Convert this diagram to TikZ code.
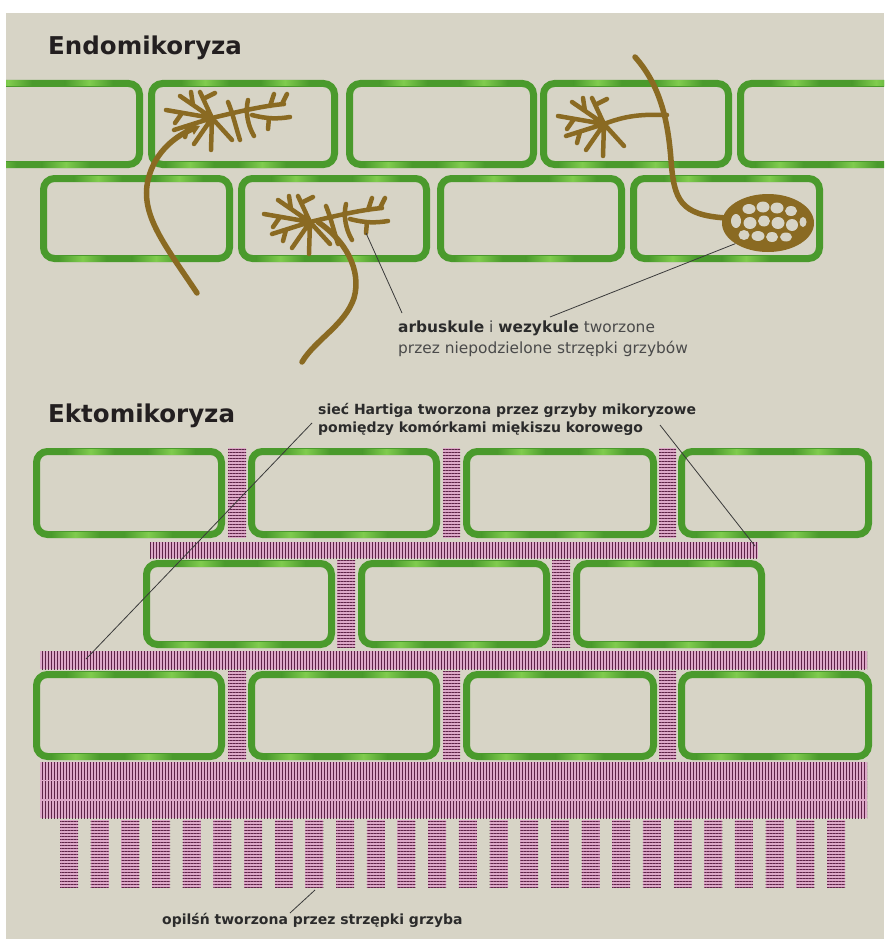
\documentclass[tikz,border=0pt]{standalone}
\usepackage{fontspec}
\setmainfont{DejaVu Sans}
\usetikzlibrary{patterns.meta,arrows.meta,shapes.geometric,calc}

\definecolor{bgbeige}{HTML}{D7D4C6}
\definecolor{cgreen}{HTML}{4A9A2C}
\definecolor{cglow}{HTML}{80CC4E}
\definecolor{fbrown}{HTML}{8A6A22}
\definecolor{hpink}{HTML}{DDA8C8}
\definecolor{hdark}{HTML}{5E2347}
\definecolor{titlecol}{HTML}{231F20}
\definecolor{lbldark}{HTML}{2B2B2B}
\definecolor{lblgray}{HTML}{4A4A4A}
\definecolor{pline}{HTML}{3A3A3A}

% plant cell: name, x1, y1, x2, y2 (outer edges of the wall)
\newcommand{\plantcell}[5]{%
  \pgfmathsetmacro\cw{#4-#2}\pgfmathsetmacro\ch{#5-#3}%
  \node[cellbox, minimum width=\cw pt-7pt, minimum height=\ch pt-7pt]
    (#1) at ({(#2+#4)/2},{(#3+#5)/2}) {};
  \foreach \f in {0.3,0.72}{%
    \shade[glow] ({#2+\f*\cw-24},{#3+1}) rectangle ({#2+\f*\cw+24},{#3+6});}
  \foreach \f in {0.22,0.6}{%
    \shade[glow] ({#2+\f*\cw-24},{#5-6}) rectangle ({#2+\f*\cw+24},{#5-1});}
}

\tikzset{
  cellbox/.style={draw=cgreen, line width=7pt, rounded corners=11pt,
    rectangle, inner sep=0pt, outer sep=0pt},
  glow/.style={left color=cgreen, right color=cgreen, middle color=cglow},
  hypha/.style={draw=fbrown, line width=5.5pt, line cap=round, line join=round},
  twig/.style={draw=fbrown, line width=4.5pt, line cap=round, line join=round},
  pointer/.style={draw=pline, line width=0.8pt},
  hyphvert/.style={fill=hpink, postaction={pattern={Lines[angle=90,distance=3pt,line width=1pt]}, pattern color=hdark}},
  hyphhorz/.style={fill=hpink, postaction={pattern={Lines[angle=0,distance=3pt,line width=1pt]}, pattern color=hdark}},
  heading/.style={inner sep=0pt, anchor=base west, text=titlecol,
    font=\fontsize{24.5}{29}\selectfont\bfseries},
  lbl/.style={inner sep=0pt, anchor=base west, text=lbldark,
    font=\fontsize{14}{17}\selectfont},
  bush/.pic={
    \draw[twig] (0,0) -- (-46,-8) (-30,-5) -- (-37,5)
      (0,0) -- (-32,-22) (-19,-13) -- (-21,-26)
      (0,0) -- (-12,-26) (-9,-19) -- (3,-25)
      (0,0) -- (-38,12) (-24,8) -- (-27,19)
      (0,0) -- (-1,32) (0,0) -- (20,22) (0,0) -- (-18,26);
  },
  branch/.pic={
    \draw[twig] (0,0) .. controls (25,-6) and (50,-12) .. (72,-14)
      (16,-16) .. controls (21,-4) and (24,10) .. (28,22)
      (36,-18) .. controls (33,-6) and (36,8) .. (42,18)
      (40,-3) .. controls (55,1) and (66,1) .. (78,-1)
      (57,0) -- (56,11)
      (58,-12) -- (62,-24)
      (70,-14) -- (75,-24);
    \coordinate (-tip) at (56,11);
  }
}

\begin{document}
\begin{tikzpicture}[x=1pt,y=-1pt]
\useasboundingbox (0,0) rectangle (884,939);
\fill[white] (0,0) rectangle (884,939);
\fill[bgbeige] (6,13) rectangle (884,939);

\begin{scope}
\clip (6,13) rectangle (884,939);

% ---------------- Endomikoryza ----------------
\node[heading] (endotitle) at (48,55) {Endomikoryza};

\plantcell{e1}{-50}{80}{143}{168}
\plantcell{e2}{148}{80}{338}{168}
\plantcell{e3}{346}{80}{537}{168}
\plantcell{e4}{540}{80}{732}{168}
\plantcell{e5}{737}{80}{930}{168}
\plantcell{e6}{40}{175}{233}{262}
\plantcell{e7}{238}{175}{430}{262}
\plantcell{e8}{437}{175}{625}{262}
\plantcell{e9}{630}{175}{823}{262}

% arbuscule in cell e2, fed by a hypha from below
\pic (a1b) at (212,118) {bush};
\pic (a1r) at (212,118) {branch};
\draw[hypha, -{Triangle[length=9pt,width=11pt]}] (197,293)
  .. controls (165,245) and (140,215) .. (148,180)
  .. controls (155,150) and (178,135) .. (200,126);

% arbuscule in cell e7
\pic (a2b) at (310,222) {bush};
\pic (a2r) at (310,222) {branch};
\draw[hypha] (318,222) .. controls (345,240) and (362,270) .. (354,298)
  .. controls (345,325) and (315,340) .. (302,362);

% arbuscule in cell e4 and the hypha ending in a vesicle in cell e9
\pic (a3b) at (604,124) {bush};
\draw[twig] (604,124) .. controls (625,116) and (640,114) .. (667,115);
\draw[hypha] (635,57) .. controls (660,85) and (668,120) .. (671,160)
  .. controls (674,200) and (680,215) .. (726,218);
\node[ellipse, fill=fbrown, minimum width=92pt, minimum height=58pt,
  inner sep=0pt] (ves) at (768,223) {};
\foreach \dx/\dy/\rx/\ry in {
  -19/-14/6.5/5, -5/-16/6.5/5.5, 9/-15/6.5/5.5, 23/-12/6/5,
  -32/-2/5/7, -18/0/6.5/6, -4/-2/6/5.5, 10/0/6.5/6, 24/2/6/6, 35/-1/3.5/5,
  -24/12/5.5/5, -10/13/6.5/5, 4/14/6/5, 18/14/6/4.5}{
  \fill[bgbeige] ($(768,223)+(\dx,\dy)$) ellipse [x radius=\rx, y radius=\ry];
}

\node[lbl, font=\fontsize{15.4}{18}\selectfont] (endolbl1) at (398,332)
  {\textbf{arbuskule} \textcolor{lblgray}{i} \textbf{wezykule} \textcolor{lblgray}{tworzone}};
\node[lbl, text=lblgray, font=\fontsize{15.4}{18}\selectfont] (endolbl2) at (398,353)
  {przez niepodzielone strzępki grzybów};
\coordinate (endoA) at (402,313);
\coordinate (endoB) at (550,317);
\draw[pointer] (a2r-tip) -- (endoA);
\draw[pointer] (ves.south west) -- (endoB);

% ---------------- Ektomikoryza ----------------
\node[heading] (ektotitle) at (48,422) {Ektomikoryza};

% Hartig net between the cortex cells
\path[hyphhorz] (228,448) rectangle (246,538);
\path[hyphhorz] (443,448) rectangle (460,538);
\path[hyphhorz] (659,448) rectangle (676,538);
\path[hyphvert] (150,542) rectangle (758,558);
\path[hyphhorz] (337,560) rectangle (355,648);
\path[hyphhorz] (552,560) rectangle (570,648);
\path[hyphvert] (40,651) rectangle (867,669);
\path[hyphhorz] (228,671) rectangle (246,760);
\path[hyphhorz] (443,671) rectangle (460,760);
\path[hyphhorz] (659,671) rectangle (676,760);

\plantcell{k1}{33}{448}{225}{538}
\plantcell{k2}{248}{448}{440}{538}
\plantcell{k3}{463}{448}{657}{538}
\plantcell{k4}{678}{448}{872}{538}
\plantcell{k5}{143}{560}{335}{648}
\plantcell{k6}{358}{560}{550}{648}
\plantcell{k7}{573}{560}{765}{648}
\plantcell{k8}{33}{671}{225}{760}
\plantcell{k9}{248}{671}{440}{760}
\plantcell{k10}{463}{671}{657}{760}
\plantcell{k11}{678}{671}{872}{760}

% fungal mantle and the hyphae growing out of it
\fill[hpink] (40,762) rectangle (867,818);
\path[hyphvert] (40,762) rectangle (867,779);
\path[hyphvert] (40,781) rectangle (867,799);
\path[hyphvert] (40,801) rectangle (867,818);
\foreach \i in {0,...,25}{
  \path[hyphhorz] ({60+30.68*\i},820) rectangle ({78+30.68*\i},888);
}

\node[lbl, font=\fontsize{14}{17}\selectfont\bfseries] (ektolbl1) at (318,414)
  {sieć Hartiga tworzona przez grzyby mikoryzowe};
\node[lbl, font=\fontsize{14}{17}\selectfont\bfseries] (ektolbl2) at (318,432)
  {pomiędzy komórkami miękiszu korowego};
\coordinate (hartigL) at (312,423);
\coordinate (hartigR) at (660,425);
\coordinate (netL) at (86,659);
\coordinate (netR) at (755,546);
\draw[pointer] (hartigL) -- (netL);
\draw[pointer] (hartigR) -- (netR);

\node[lbl, font=\fontsize{14}{17}\selectfont\bfseries] (mantlelbl) at (162,924)
  {opilśń tworzona przez strzępki grzyba};
\coordinate (mantleA) at (290,913);
\coordinate (mantleB) at (315,890);
\draw[pointer] (mantleA) -- (mantleB);
\end{scope}
\end{tikzpicture}
\end{document}
